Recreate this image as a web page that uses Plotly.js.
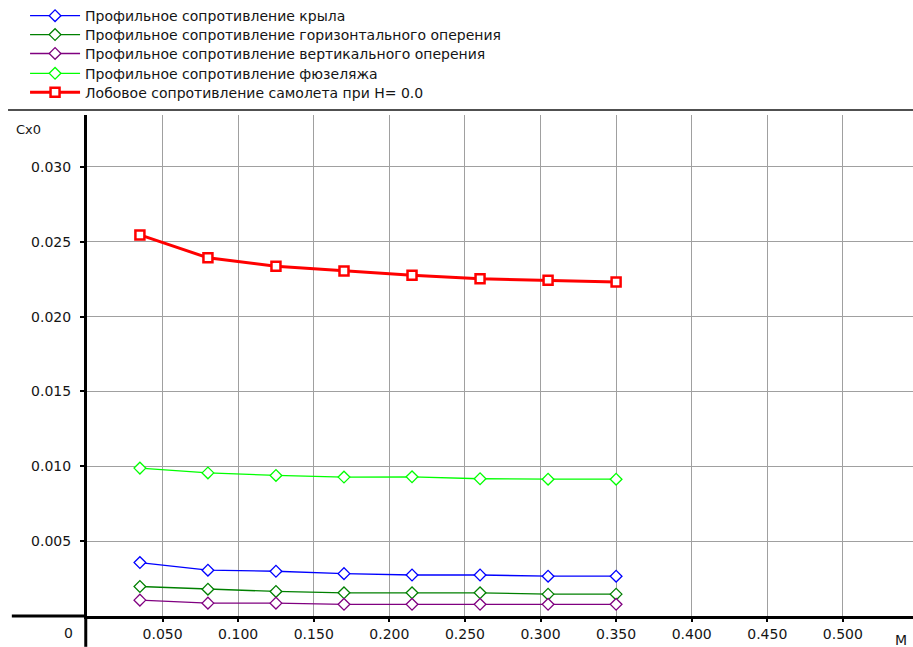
<!DOCTYPE html>
<html>
<head>
<meta charset="utf-8">
<script src="https://cdn.plot.ly/plotly-3.0.1.min.js"></script>
<style>
html,body{margin:0;padding:0;background:#fff;}
#chart{width:913px;height:647px;}
</style>
</head>
<body>
<div id="chart"></div>
<script>
// Mach numbers
const machValues = [0.035, 0.080, 0.125, 0.170, 0.215, 0.260, 0.305, 0.350];

// Series names
const seriesNames = [
  "Профильное сопротивление крыла",
  "Профильное сопротивление горизонтального оперения",
  "Профильное сопротивление вертикального оперения",
  "Профильное сопротивление фюзеляжа",
  "Лобовое сопротивление самолета при H= 0.0"
];

// Series values (Cx0)
const wingCx = [0.00357, 0.00306, 0.00299, 0.00283, 0.00274, 0.00274, 0.00266, 0.00266];
const hTailCx = [0.00197, 0.00179, 0.00164, 0.00155, 0.00155, 0.00155, 0.00146, 0.00146];
const vTailCx = [0.00106, 0.00086, 0.00086, 0.00078, 0.00078, 0.00078, 0.00078, 0.00078];
const fuselageCx = [0.00988, 0.00956, 0.00939, 0.00928, 0.00930, 0.00917, 0.00914, 0.00914];
const totalCx = [0.02546, 0.02393, 0.02336, 0.02304, 0.02276, 0.02253, 0.02243, 0.02232];

// Tick values
const xTickVals = [0.05, 0.10, 0.15, 0.20, 0.25, 0.30, 0.35, 0.40, 0.45, 0.50];
const yTickVals = [0.005, 0.010, 0.015, 0.020, 0.025, 0.030];

// Axis labels
const yAxisLabel = "Cx0";
const xAxisLabel = "M";
const originLabel = "0";

const FONT = "'DejaVu Sans', Verdana, sans-serif";
const TXT = '#151515';
const FS = 14;

const seriesColors = ['#0000ff', '#008000', '#800080', '#00ff00'];
const thinSeries = [wingCx, hTailCx, vTailCx, fuselageCx];
const legendIds = ['legend', 'legend2', 'legend3', 'legend4', 'legend5'];

const traces = thinSeries.map((y, i) => ({
  x: machValues, y: y, name: seriesNames[i], type: 'scatter', mode: 'lines+markers',
  legend: legendIds[i],
  line: {color: seriesColors[i], width: 1.3},
  marker: {symbol: 'diamond', size: 9, color: '#ffffff', line: {color: seriesColors[i], width: 1.3}}
}));
traces.push({
  x: machValues, y: totalCx, name: seriesNames[4], type: 'scatter', mode: 'lines+markers',
  legend: legendIds[4],
  line: {color: '#ff0000', width: 3},
  marker: {symbol: 'square', size: 9, color: '#ffffff', line: {color: '#ff0000', width: 2.5}}
});

// legend rows (paper y of each legend row centre)
const legendRows = [1.1974, 1.1597, 1.1220, 1.0824, 1.0447];

const tickFont = {family: FONT, size: FS, color: TXT};

const layout = {
  width: 913, height: 647,
  margin: {l: 87, r: 0, t: 112, b: 31, pad: 0},
  paper_bgcolor: '#ffffff', plot_bgcolor: '#ffffff',
  font: {family: FONT, size: FS, color: TXT},
  showlegend: true,
  xaxis: {
    range: [0, 0.5464], tickmode: 'array', tickvals: xTickVals, tickformat: '.3f',
    showgrid: true, gridcolor: '#a0a0a0', gridwidth: 1,
    showline: true, linecolor: '#000', linewidth: 3,
    zeroline: false, ticks: 'outside', ticklen: 3, tickwidth: 2, tickcolor: '#000',
    tickfont: tickFont, fixedrange: true
  },
  yaxis: {
    range: [0, 0.03347], tickmode: 'array', tickvals: yTickVals, tickformat: '.3f',
    showgrid: true, gridcolor: '#a0a0a0', gridwidth: 1,
    showline: true, linecolor: '#000', linewidth: 3,
    zeroline: false, ticks: 'outside', ticklen: 4, tickwidth: 2, tickcolor: '#000',
    ticklabelstandoff: 6,
    tickfont: tickFont, fixedrange: true
  },
  shapes: [
    {type: 'line', xref: 'paper', yref: 'paper', x0: -0.091, x1: 0, y0: 0, y1: 0, line: {color: '#000', width: 3}},
    {type: 'line', xref: 'paper', yref: 'paper', x0: -0.0015, x1: -0.0015, y0: 0, y1: -0.0615, line: {color: '#000', width: 3}},
    {type: 'line', xref: 'paper', yref: 'paper', x0: -0.0956, x1: 1, y0: 1.0099, y1: 1.0099, line: {color: '#505050', width: 2}}
  ],
  annotations: [
    {text: yAxisLabel, xref: 'paper', yref: 'paper', x: -0.088, y: 0.972, xanchor: 'left', yanchor: 'middle', showarrow: false, font: {family: FONT, size: 13, color: TXT}},
    {text: xAxisLabel, xref: 'paper', yref: 'paper', x: 0.9855, y: -0.047, xanchor: 'center', yanchor: 'middle', showarrow: false, font: {family: FONT, size: FS, color: TXT}},
    {text: originLabel, xref: 'paper', yref: 'paper', x: -0.0145, y: -0.034, xanchor: 'right', yanchor: 'middle', showarrow: false, font: {family: FONT, size: FS, color: TXT}}
  ]
};

legendIds.forEach((id, i) => {
  layout[id] = {
    x: -0.075, y: legendRows[i], xanchor: 'left', yanchor: 'middle',
    font: {family: FONT, size: FS, color: TXT},
    bgcolor: 'rgba(0,0,0,0)', itemwidth: 50
  };
});

Plotly.newPlot('chart', traces, layout, {displayModeBar: false, staticPlot: true});
</script>
</body>
</html>
